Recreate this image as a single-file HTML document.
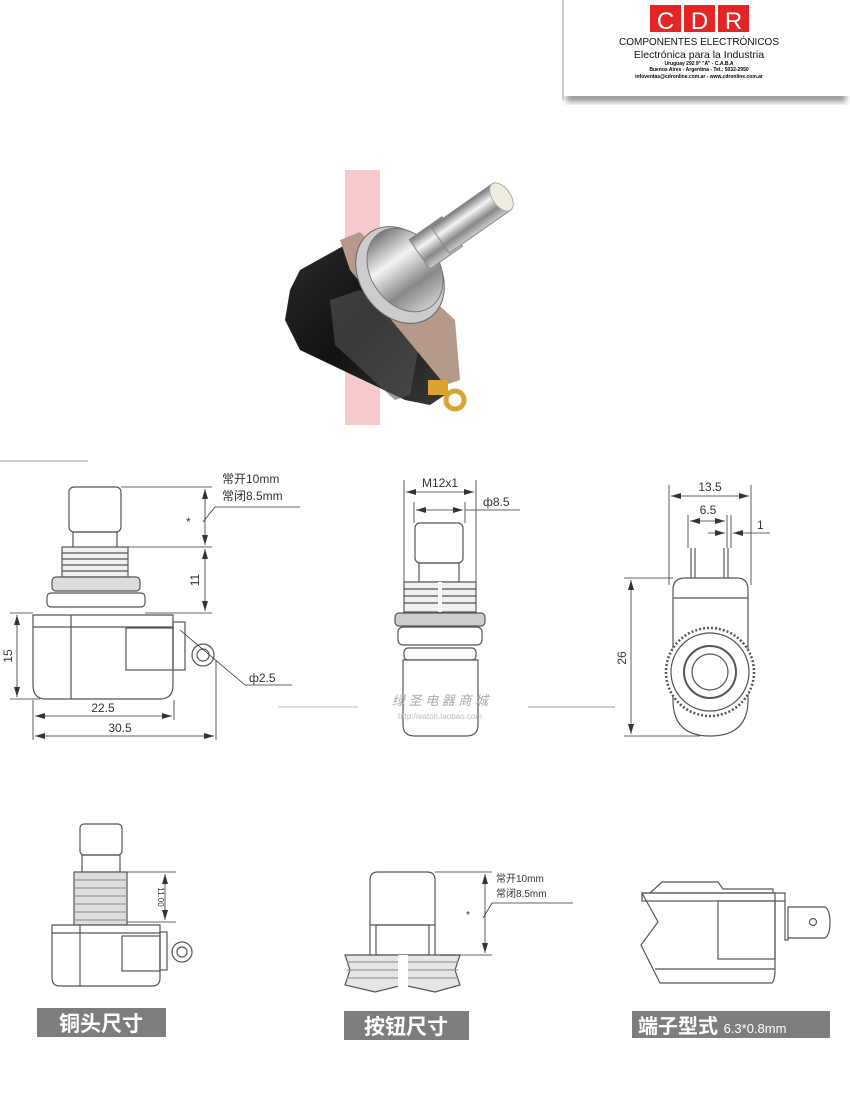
<!DOCTYPE html>
<html><head><meta charset="utf-8"><style>
html,body{margin:0;padding:0;background:#fff}
svg{display:block}
text{font-family:"Liberation Sans","Noto Sans CJK SC",sans-serif}
</style></head><body>
<svg width="850" height="1100" viewBox="0 0 850 1100" xmlns="http://www.w3.org/2000/svg">
<defs>
<filter id="sh" x="-10%" y="-20%" width="120%" height="150%"><feGaussianBlur stdDeviation="3"/></filter>
<linearGradient id="blk" x1="0" y1="0" x2="1" y2="1"><stop offset="0" stop-color="#2a2a2a"/><stop offset="0.5" stop-color="#111"/><stop offset="1" stop-color="#3a3a3a"/></linearGradient>
<linearGradient id="met" x1="0" y1="0" x2="0" y2="1"><stop offset="0" stop-color="#777"/><stop offset="0.35" stop-color="#f4f4f4"/><stop offset="0.7" stop-color="#888"/><stop offset="1" stop-color="#ccc"/></linearGradient>
<marker id="a" viewBox="0 0 10 6" refX="10" refY="3" markerWidth="10" markerHeight="6" orient="auto-start-reverse" markerUnits="userSpaceOnUse"><path d="M0,0L10,3L0,6z" fill="#333"/></marker>
</defs>

<!-- logo -->
<rect x="566" y="92" width="280" height="10" fill="#999" filter="url(#sh)"/>
<rect x="560" y="0" width="290" height="96" fill="#fff"/>
<line x1="563" y1="0" x2="563" y2="100" stroke="#ccc" stroke-width="2"/>
<rect x="650" y="5" width="31" height="27" fill="#e52426"/>
<rect x="684" y="5" width="31" height="27" fill="#e52426"/>
<rect x="718" y="5" width="31" height="27" fill="#e52426"/>
<text x="665.5" y="29" font-size="24" fill="#fff" text-anchor="middle">C</text>
<text x="699.5" y="29" font-size="24" fill="#fff" text-anchor="middle">D</text>
<text x="733.5" y="29" font-size="24" fill="#fff" text-anchor="middle">R</text>
<text x="699" y="45" font-size="10" text-anchor="middle" fill="#111">COMPONENTES ELECTRÓNICOS</text>
<text x="699" y="58" font-size="10.5" text-anchor="middle" fill="#111">Electrónica para la Industria</text>
<text x="699" y="65" font-size="5" font-weight="bold" text-anchor="middle">Uruguay 292 9° "A" - C.A.B.A</text>
<text x="699" y="71" font-size="5" font-weight="bold" text-anchor="middle">Buenos Aires - Argentina - Tel.: 5032-2950</text>
<text x="699" y="78" font-size="5" font-weight="bold" text-anchor="middle">infoventas@cdronline.com.ar - www.cdronline.com.ar</text>

<!-- photo -->
<rect x="345" y="170" width="35" height="255" fill="#f6c9cc"/>
<polygon points="290,290 300,270 345,245 360,255 440,340 445,395 430,405 405,400 300,350 285,320" fill="url(#blk)"/>
<polygon points="330,300 360,290 420,340 410,395 395,400 335,345" fill="#555" opacity="0.6"/>
<polygon points="340,240 360,232 455,320 460,380 445,385 350,270" fill="#b59a8a"/>
<ellipse cx="400" cy="275" rx="40" ry="52" transform="rotate(-35 400 275)" fill="#ccc" stroke="#666"/>
<ellipse cx="405" cy="270" rx="34" ry="45" transform="rotate(-35 405 270)" fill="url(#met)" stroke="#777"/>
<g transform="rotate(-35 440 240)">
<rect x="415" y="222" width="40" height="36" fill="url(#met)" stroke="#888"/>
<rect x="440" y="224" width="75" height="32" fill="url(#met)" stroke="#888"/>
<ellipse cx="515" cy="240" rx="9" ry="16" fill="#f1ece0" stroke="#aaa"/>
</g>
<circle cx="455" cy="400" r="9" fill="none" stroke="#d9a431" stroke-width="5"/>
<rect x="428" y="380" width="20" height="15" fill="#d9a431"/>

<!-- divider line top-left -->
<line x1="0" y1="461" x2="88" y2="461" stroke="#ccc" stroke-width="2"/>

<g fill="none" stroke="#555" stroke-width="1.2">
<!-- LEFT drawing -->
<rect x="69" y="487" width="52" height="45" rx="5" fill="#fff"/>
<rect x="73" y="532" width="44" height="16"/>
<rect x="62" y="547" width="66" height="30" fill="#f0f0f0"/>
<line x1="62" y1="553" x2="128" y2="553"/><line x1="62" y1="559" x2="128" y2="559"/><line x1="62" y1="565" x2="128" y2="565"/><line x1="62" y1="571" x2="128" y2="571"/>
<rect x="52" y="577" width="88" height="14" rx="4" fill="#ddd"/>
<rect x="47" y="593" width="98" height="14" rx="4" fill="#fff"/>
<path d="M33,615 H173 V685 Q173,699 160,699 H46 Q33,699 33,685 Z" fill="#fff"/>
<line x1="33" y1="627" x2="173" y2="627"/>
<line x1="71" y1="615" x2="71" y2="699"/>
<rect x="126" y="628" width="47" height="42"/>
<rect x="173" y="622" width="12" height="48"/>
<circle cx="203" cy="655" r="11" fill="#fff"/><circle cx="203" cy="655" r="6"/>
<g stroke="#333" stroke-width="0.8">
<line x1="121" y1="487" x2="212" y2="487"/>
<line x1="128" y1="547" x2="212" y2="547"/>
<line x1="145" y1="613" x2="212" y2="613"/>
<line x1="205" y1="489" x2="205" y2="545" marker-start="url(#a)" marker-end="url(#a)"/>
<line x1="205" y1="549" x2="205" y2="611" marker-start="url(#a)" marker-end="url(#a)"/>
<line x1="203" y1="522" x2="215" y2="507"/><line x1="215" y1="507" x2="300" y2="507"/>
<line x1="10" y1="613" x2="33" y2="613"/><line x1="10" y1="699" x2="40" y2="699"/>
<line x1="17" y1="615" x2="17" y2="697" marker-start="url(#a)" marker-end="url(#a)"/>
<line x1="33" y1="700" x2="33" y2="740"/><line x1="174" y1="700" x2="174" y2="720"/><line x1="216" y1="660" x2="216" y2="740"/>
<line x1="35" y1="716" x2="172" y2="716" marker-start="url(#a)" marker-end="url(#a)"/>
<line x1="35" y1="736" x2="214" y2="736" marker-start="url(#a)" marker-end="url(#a)"/>
<line x1="180" y1="630" x2="245" y2="685"/><line x1="245" y1="685" x2="292" y2="685"/>
</g>

<!-- MIDDLE drawing -->
<rect x="415" y="523" width="48" height="40" rx="5" fill="#fff"/>
<rect x="419" y="563" width="40" height="19"/>
<rect x="404" y="582" width="72" height="30" fill="#f0f0f0"/>
<line x1="404" y1="589" x2="476" y2="589"/><line x1="404" y1="596" x2="476" y2="596"/><line x1="404" y1="603" x2="476" y2="603"/>
<line x1="440" y1="582" x2="440" y2="612" stroke="#fff" stroke-width="4"/>
<rect x="395" y="613" width="90" height="13" rx="4" fill="#ccc"/>
<rect x="398" y="627" width="84" height="18" rx="5" fill="#fff"/>
<rect x="404" y="648" width="72" height="12" rx="4"/>
<path d="M403,660 H478 V725 Q478,736 466,736 H415 Q403,736 403,725 Z" fill="#fff"/>
<g stroke="#333" stroke-width="0.8">
<line x1="404" y1="480" x2="404" y2="582"/><line x1="476" y1="480" x2="476" y2="582"/>
<line x1="406" y1="492" x2="474" y2="492" marker-start="url(#a)" marker-end="url(#a)"/>
<line x1="414" y1="502" x2="414" y2="523"/><line x1="465" y1="502" x2="465" y2="523"/>
<line x1="416" y1="510" x2="463" y2="510" marker-start="url(#a)" marker-end="url(#a)"/>
<line x1="465" y1="510" x2="520" y2="510"/>
</g>

<!-- RIGHT drawing -->
<line x1="691" y1="548" x2="691" y2="578"/><line x1="695" y1="548" x2="695" y2="578"/>
<line x1="724" y1="548" x2="724" y2="578"/><line x1="728" y1="548" x2="728" y2="578"/>
<path d="M673,590 Q673,578 685,578 H737 Q748,578 748,590 V700 Q748,736 710,736 Q673,736 673,700 Z" fill="#fff"/>
<line x1="673" y1="598" x2="748" y2="598"/>
<circle cx="710" cy="672" r="44" stroke-dasharray="2 2" stroke-width="2.5" fill="#fff"/>
<circle cx="710" cy="672" r="39"/>
<circle cx="710" cy="672" r="26" stroke-width="2"/>
<circle cx="710" cy="672" r="18"/>
<g stroke="#333" stroke-width="0.8">
<line x1="669" y1="485" x2="669" y2="585"/><line x1="751" y1="485" x2="751" y2="585"/>
<line x1="671" y1="496" x2="749" y2="496" marker-start="url(#a)" marker-end="url(#a)"/>
<line x1="688" y1="515" x2="688" y2="548"/><line x1="727" y1="515" x2="727" y2="548"/><line x1="731" y1="515" x2="731" y2="548"/>
<line x1="690" y1="521" x2="725" y2="521" marker-start="url(#a)" marker-end="url(#a)"/>
<line x1="708" y1="533" x2="725" y2="533" marker-end="url(#a)"/><line x1="770" y1="533" x2="733" y2="533" marker-end="url(#a)"/>
<line x1="624" y1="578" x2="673" y2="578"/><line x1="624" y1="736" x2="700" y2="736"/>
<line x1="631" y1="580" x2="631" y2="734" marker-start="url(#a)" marker-end="url(#a)"/>
</g>

<!-- BOTTOM LEFT -->
<rect x="80" y="824" width="42" height="31" rx="4" fill="#fff"/>
<rect x="82" y="855" width="38" height="17"/>
<rect x="74" y="872" width="53" height="53" fill="#ddd"/>
<g stroke="#999"><line x1="74" y1="880" x2="127" y2="880"/><line x1="74" y1="888" x2="127" y2="888"/><line x1="74" y1="896" x2="127" y2="896"/><line x1="74" y1="904" x2="127" y2="904"/><line x1="74" y1="912" x2="127" y2="912"/><line x1="74" y1="920" x2="127" y2="920"/></g>
<path d="M52,925 H160 V978 Q160,986 152,986 H60 Q52,986 52,978 Z" fill="#fff"/>
<line x1="52" y1="933" x2="160" y2="933"/><line x1="80" y1="925" x2="80" y2="986"/>
<rect x="122" y="936" width="38" height="35"/><rect x="160" y="932" width="7" height="38"/>
<circle cx="182" cy="952" r="10" fill="#fff"/><circle cx="182" cy="952" r="5"/>
<g stroke="#333" stroke-width="0.8">
<line x1="127" y1="872" x2="176" y2="872"/><line x1="127" y1="922" x2="176" y2="922"/>
<line x1="165" y1="874" x2="165" y2="920" marker-start="url(#a)" marker-end="url(#a)"/>
</g>

<!-- BOTTOM MIDDLE -->
<path d="M370,955 V880 Q370,872 378,872 H427 Q435,872 435,880 V955" fill="#fff"/>
<line x1="370" y1="925" x2="435" y2="925"/>
<rect x="376" y="925" width="53" height="30"/>
<path d="M345,955 H460 L455,970 L460,985 L435,992 L403,985 L375,992 L345,985 L350,970 Z" fill="#e6e6e6"/>
<g stroke="#999"><line x1="347" y1="962" x2="458" y2="962"/><line x1="347" y1="970" x2="458" y2="970"/><line x1="347" y1="978" x2="458" y2="978"/></g>
<rect x="398" y="955" width="10" height="32" fill="#fff" stroke="none"/>
<g stroke="#333" stroke-width="0.8">
<line x1="435" y1="872" x2="492" y2="872"/><line x1="440" y1="955" x2="492" y2="955"/>
<line x1="485" y1="874" x2="485" y2="953" marker-start="url(#a)" marker-end="url(#a)"/>
<line x1="483" y1="918" x2="492" y2="903"/><line x1="492" y1="903" x2="573" y2="903"/>
</g>

<!-- BOTTOM RIGHT -->
<path d="M642,893 L658,922 L641,945 L660,983 H772 Q775,980 775,970 V893 Z" fill="#fff"/>
<path d="M650,893 L662,882 H718 L723,889 H773 V893" />
<rect x="642" y="893" width="143" height="8"/>
<rect x="718" y="901" width="57" height="58"/>
<line x1="655" y1="969" x2="775" y2="969"/>
<path d="M785,901 V940 H788 V940 L788,907 H825 Q830,910 830,922 Q830,935 825,938 H788" />
<circle cx="813" cy="922" r="3.5"/>
</g>

<!-- dim texts -->
<g font-size="12" fill="#333">
<text x="222" y="483">常开10mm</text>
<text x="222" y="500">常闭8.5mm</text>
<text x="186" y="526">*</text>
<text x="199" y="580" transform="rotate(-90 199 580)" text-anchor="middle">11</text>
<text x="12" y="656" transform="rotate(-90 12 656)" text-anchor="middle">15</text>
<text x="249" y="682">ф2.5</text>
<text x="103" y="712" text-anchor="middle">22.5</text>
<text x="120" y="732" text-anchor="middle">30.5</text>
<text x="440" y="487" text-anchor="middle">M12x1</text>
<text x="483" y="506">ф8.5</text>
<text x="710" y="491" text-anchor="middle">13.5</text>
<text x="708" y="514" text-anchor="middle">6.5</text>
<text x="757" y="529">1</text>
<text x="626" y="658" transform="rotate(-90 626 658)" text-anchor="middle">26</text>
</g>
<g font-size="10" fill="#333">
<text x="496" y="882">常开10mm</text>
<text x="496" y="897">常闭8.5mm</text>
<text x="466" y="918">*</text>
<text x="158" y="897" transform="rotate(90 158 897)" text-anchor="middle" font-size="8">11.00</text>
</g>

<!-- watermark -->
<line x1="278" y1="707" x2="358" y2="707" stroke="#ddd" stroke-width="2"/>
<line x1="528" y1="707" x2="615" y2="707" stroke="#ccc" stroke-width="2"/>
<text x="440" y="705" font-size="13" fill="#aaa" text-anchor="middle" font-style="italic">绿 圣 电 器 商 城</text>
<text x="440" y="719" font-size="8" fill="#bbb" text-anchor="middle">http://eaton.taobao.com</text>

<!-- labels -->
<rect x="37" y="1008" width="129" height="29" fill="#7d7d7d"/>
<text x="101" y="1031" font-size="21" fill="#fff" text-anchor="middle" font-family="'Liberation Serif','Noto Serif CJK SC',serif" font-weight="bold">铜头尺寸</text>
<rect x="344" y="1011" width="125" height="29" fill="#7d7d7d"/>
<text x="406" y="1034" font-size="21" fill="#fff" text-anchor="middle" font-family="'Liberation Serif','Noto Serif CJK SC',serif" font-weight="bold">按钮尺寸</text>
<rect x="632" y="1011" width="198" height="27" fill="#7d7d7d"/>
<text x="638" y="1033" font-size="20" fill="#fff" font-family="'Liberation Serif','Noto Serif CJK SC',serif" font-weight="bold">端子型式 <tspan font-size="13" font-weight="normal">6.3*0.8mm</tspan></text>
</svg>
</body></html>
